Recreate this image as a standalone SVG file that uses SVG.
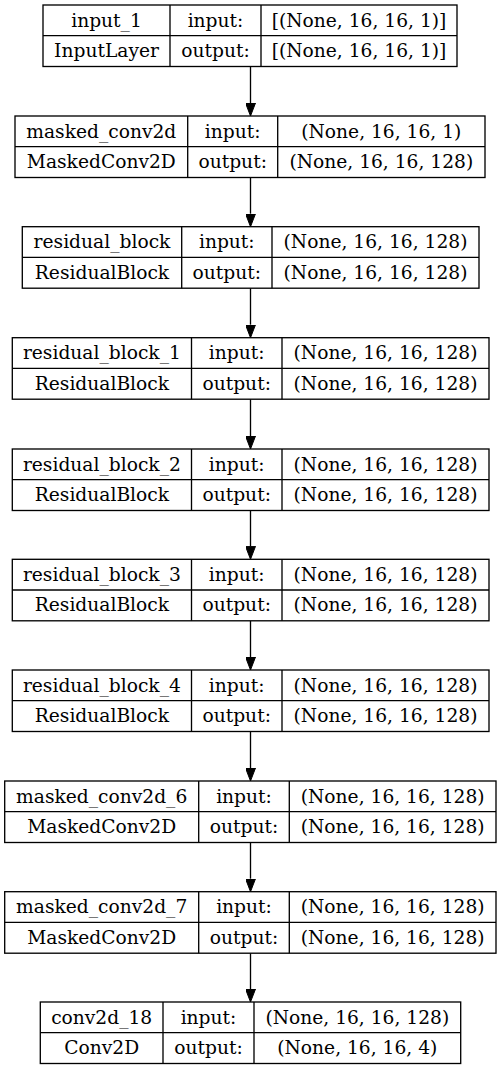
<svg xmlns="http://www.w3.org/2000/svg" width="501" height="1069" viewBox="0 0 501 1069">
<style>
.b{fill:#fff;stroke:#000;stroke-width:1.33}
.d{stroke:#000;stroke-width:1.33}
text{font-family:"DejaVu Serif","Liberation Serif",serif;font-size:18.67px;text-anchor:middle;fill:#000}
.e{stroke:#000;stroke-width:1.33;fill:none;marker-end:url(#ah)}
</style>
<defs>
<marker id="ah" viewBox="0 0 13 10" refX="0" refY="5" markerWidth="13" markerHeight="10" markerUnits="userSpaceOnUse" orient="auto">
<path d="M0,0 L13,5 L0,10 z" fill="#000" stroke="#000" stroke-width="1"/>
</marker>
</defs>
<rect width="501" height="1069" fill="#fff"/>
<g id="edges">
<line class="e" x1="250.5" y1="66.5" x2="250.5" y2="103"/>
<line class="e" x1="250.5" y1="177.5" x2="250.5" y2="213.7"/>
<line class="e" x1="250.5" y1="288.2" x2="250.5" y2="324.7"/>
<line class="e" x1="250.5" y1="399.2" x2="250.5" y2="436"/>
<line class="e" x1="250.5" y1="510.5" x2="250.5" y2="546.3"/>
<line class="e" x1="250.5" y1="620.8" x2="250.5" y2="657"/>
<line class="e" x1="250.5" y1="731.5" x2="250.5" y2="768"/>
<line class="e" x1="250.5" y1="842.5" x2="250.5" y2="878.7"/>
<line class="e" x1="250.5" y1="953.2" x2="250.5" y2="989"/>
</g>
<g id="input_1">
<rect class="b" x="43" y="5" width="414" height="61.5"/>
<line class="d" x1="43" y1="35.7" x2="457" y2="35.7"/>
<line class="d" x1="170" y1="5" x2="170" y2="66.5"/>
<line class="d" x1="261" y1="5" x2="261" y2="66.5"/>
<text x="106.5" y="26.5">input_1</text>
<text x="106.5" y="57">InputLayer</text>
<text x="215.5" y="26.5">input:</text>
<text x="215.5" y="57">output:</text>
<text x="359" y="26.5">[(None, 16, 16, 1)]</text>
<text x="359" y="57">[(None, 16, 16, 1)]</text>
</g>
<g id="masked_conv2d">
<rect class="b" x="15" y="116" width="470" height="61.5"/>
<line class="d" x1="15" y1="146.7" x2="485" y2="146.7"/>
<line class="d" x1="187.7" y1="116" x2="187.7" y2="177.5"/>
<line class="d" x1="277.7" y1="116" x2="277.7" y2="177.5"/>
<text x="101.3" y="137.5">masked_conv2d</text>
<text x="101.3" y="168">MaskedConv2D</text>
<text x="232.7" y="137.5">input:</text>
<text x="232.7" y="168">output:</text>
<text x="381.3" y="137.5">(None, 16, 16, 1)</text>
<text x="381.3" y="168">(None, 16, 16, 128)</text>
</g>
<g id="residual_block">
<rect class="b" x="22.3" y="226.7" width="456.7" height="61.5"/>
<line class="d" x1="22.3" y1="257.4" x2="479" y2="257.4"/>
<line class="d" x1="181.7" y1="226.7" x2="181.7" y2="288.2"/>
<line class="d" x1="272" y1="226.7" x2="272" y2="288.2"/>
<text x="102" y="248.2">residual_block</text>
<text x="102" y="278.7">ResidualBlock</text>
<text x="226.8" y="248.2">input:</text>
<text x="226.8" y="278.7">output:</text>
<text x="375.5" y="248.2">(None, 16, 16, 128)</text>
<text x="375.5" y="278.7">(None, 16, 16, 128)</text>
</g>
<g id="residual_block_1">
<rect class="b" x="12.3" y="337.7" width="476.7" height="61.5"/>
<line class="d" x1="12.3" y1="368.4" x2="489" y2="368.4"/>
<line class="d" x1="191.5" y1="337.7" x2="191.5" y2="399.2"/>
<line class="d" x1="282" y1="337.7" x2="282" y2="399.2"/>
<text x="101.9" y="359.2">residual_block_1</text>
<text x="101.9" y="389.7">ResidualBlock</text>
<text x="236.7" y="359.2">input:</text>
<text x="236.7" y="389.7">output:</text>
<text x="385.5" y="359.2">(None, 16, 16, 128)</text>
<text x="385.5" y="389.7">(None, 16, 16, 128)</text>
</g>
<g id="residual_block_2">
<rect class="b" x="12.3" y="449" width="476.7" height="61.5"/>
<line class="d" x1="12.3" y1="479.7" x2="489" y2="479.7"/>
<line class="d" x1="191.5" y1="449" x2="191.5" y2="510.5"/>
<line class="d" x1="282" y1="449" x2="282" y2="510.5"/>
<text x="101.9" y="470.5">residual_block_2</text>
<text x="101.9" y="501">ResidualBlock</text>
<text x="236.7" y="470.5">input:</text>
<text x="236.7" y="501">output:</text>
<text x="385.5" y="470.5">(None, 16, 16, 128)</text>
<text x="385.5" y="501">(None, 16, 16, 128)</text>
</g>
<g id="residual_block_3">
<rect class="b" x="12.3" y="559.3" width="476.7" height="61.5"/>
<line class="d" x1="12.3" y1="590" x2="489" y2="590"/>
<line class="d" x1="191.5" y1="559.3" x2="191.5" y2="620.8"/>
<line class="d" x1="282" y1="559.3" x2="282" y2="620.8"/>
<text x="101.9" y="580.8">residual_block_3</text>
<text x="101.9" y="611.3">ResidualBlock</text>
<text x="236.7" y="580.8">input:</text>
<text x="236.7" y="611.3">output:</text>
<text x="385.5" y="580.8">(None, 16, 16, 128)</text>
<text x="385.5" y="611.3">(None, 16, 16, 128)</text>
</g>
<g id="residual_block_4">
<rect class="b" x="12.3" y="670" width="476.7" height="61.5"/>
<line class="d" x1="12.3" y1="700.7" x2="489" y2="700.7"/>
<line class="d" x1="191.5" y1="670" x2="191.5" y2="731.5"/>
<line class="d" x1="282" y1="670" x2="282" y2="731.5"/>
<text x="101.9" y="691.5">residual_block_4</text>
<text x="101.9" y="722">ResidualBlock</text>
<text x="236.7" y="691.5">input:</text>
<text x="236.7" y="722">output:</text>
<text x="385.5" y="691.5">(None, 16, 16, 128)</text>
<text x="385.5" y="722">(None, 16, 16, 128)</text>
</g>
<g id="masked_conv2d_6">
<rect class="b" x="4.7" y="781" width="491.3" height="61.5"/>
<line class="d" x1="4.7" y1="811.7" x2="496" y2="811.7"/>
<line class="d" x1="198.7" y1="781" x2="198.7" y2="842.5"/>
<line class="d" x1="289.3" y1="781" x2="289.3" y2="842.5"/>
<text x="101.7" y="802.5">masked_conv2d_6</text>
<text x="101.7" y="833">MaskedConv2D</text>
<text x="244" y="802.5">input:</text>
<text x="244" y="833">output:</text>
<text x="392.7" y="802.5">(None, 16, 16, 128)</text>
<text x="392.7" y="833">(None, 16, 16, 128)</text>
</g>
<g id="masked_conv2d_7">
<rect class="b" x="4.7" y="891.7" width="491.3" height="61.5"/>
<line class="d" x1="4.7" y1="922.4" x2="496" y2="922.4"/>
<line class="d" x1="198.7" y1="891.7" x2="198.7" y2="953.2"/>
<line class="d" x1="289.3" y1="891.7" x2="289.3" y2="953.2"/>
<text x="101.7" y="913.2">masked_conv2d_7</text>
<text x="101.7" y="943.7">MaskedConv2D</text>
<text x="244" y="913.2">input:</text>
<text x="244" y="943.7">output:</text>
<text x="392.7" y="913.2">(None, 16, 16, 128)</text>
<text x="392.7" y="943.7">(None, 16, 16, 128)</text>
</g>
<g id="conv2d_18">
<rect class="b" x="40.3" y="1002" width="420.4" height="61.5"/>
<line class="d" x1="40.3" y1="1032.7" x2="460.7" y2="1032.7"/>
<line class="d" x1="163" y1="1002" x2="163" y2="1063.5"/>
<line class="d" x1="254" y1="1002" x2="254" y2="1063.5"/>
<text x="101.7" y="1023.5">conv2d_18</text>
<text x="101.7" y="1054">Conv2D</text>
<text x="208.5" y="1023.5">input:</text>
<text x="208.5" y="1054">output:</text>
<text x="357.3" y="1023.5">(None, 16, 16, 128)</text>
<text x="357.3" y="1054">(None, 16, 16, 4)</text>
</g>
</svg>
